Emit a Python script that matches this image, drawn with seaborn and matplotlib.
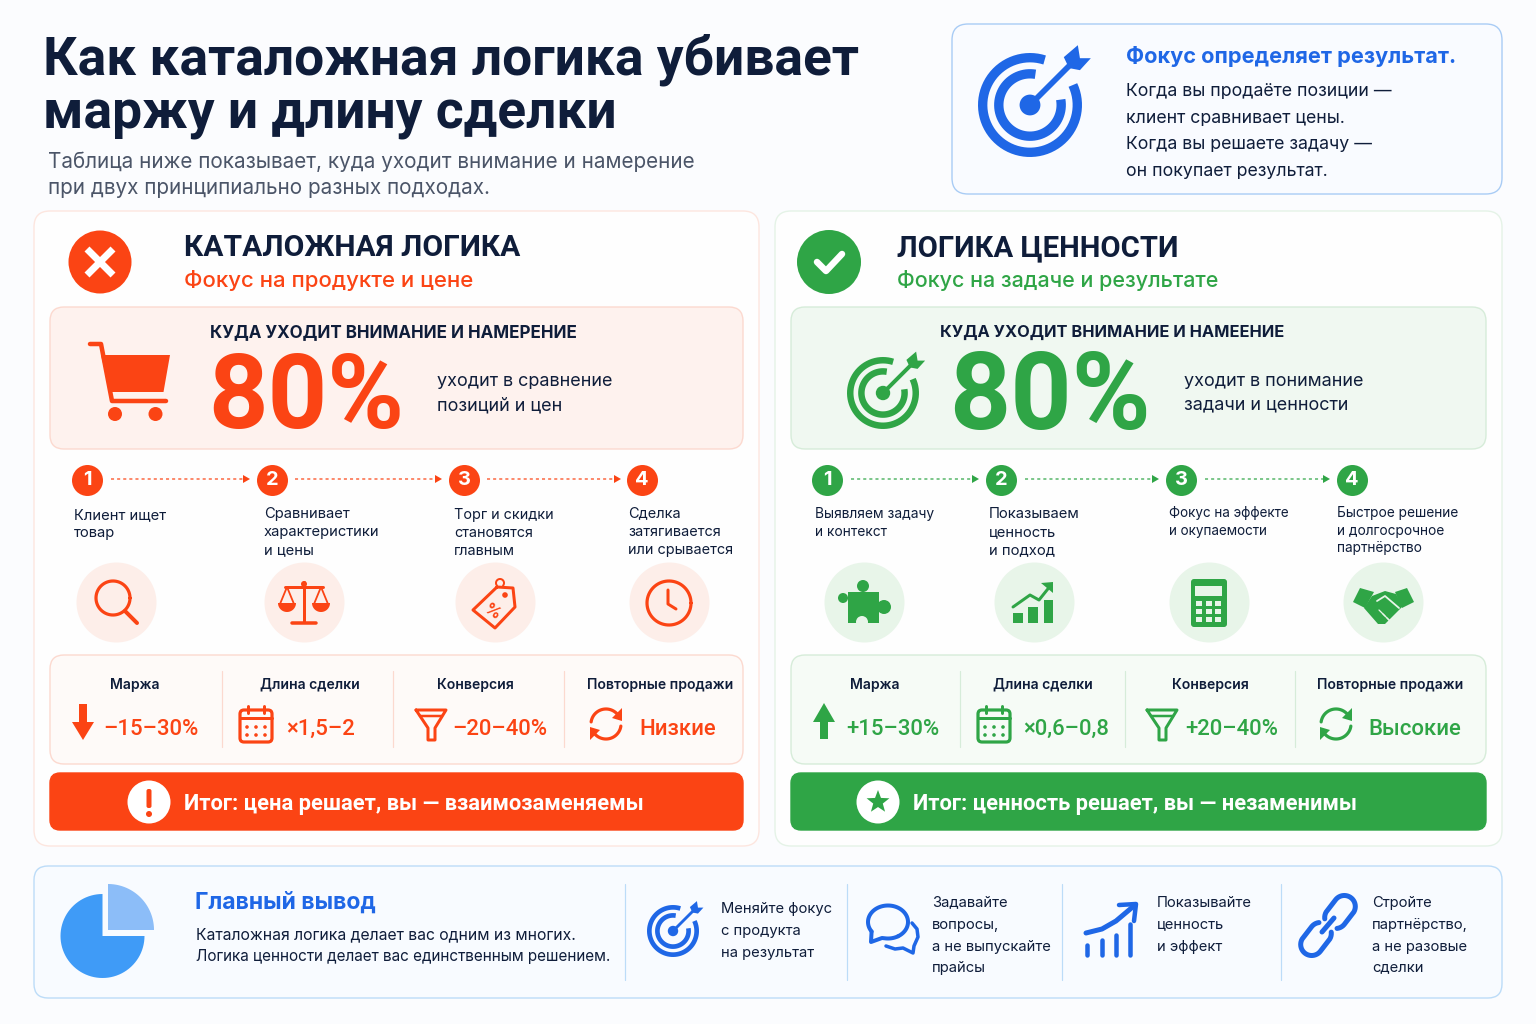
import numpy as np
import matplotlib
matplotlib.use("Agg")
import matplotlib.pyplot as plt
from matplotlib.patches import FancyBboxPatch, Circle, Rectangle
import seaborn as sns

# colours
BG = '#fbfcfe'
INK = '#0f1d3a'
GREY = '#4b5568'
RED = '#fb4414'
RED_SOFT = '#fef2ee'
RED_LINE = '#fcd9cf'
RED_EDGE = '#fde6df'
RED_DISC = '#fdeee9'
GREEN = '#2fa546'
GREEN_SOFT = '#f0f8f1'
GREEN_LINE = '#d6ecd9'
GREEN_EDGE = '#e5f3e7'
GREEN_DISC = '#e8f5e9'
BLUE = '#1f67e6'
BLUE_LINE = '#bcdcf8'
ROBOTO = ['Roboto', 'DejaVu Sans']

# text
title_lines = ['Как каталожная логика убивает', 'маржу и длину сделки']
subtitle_lines = ['Таблица ниже показывает, куда уходит внимание и намерение',
                  'при двух принципиально разных подходах.']
focus_title = 'Фокус определяет результат.'
focus_lines = ['Когда вы продаёте позиции —', 'клиент сравнивает цены.',
               'Когда вы решаете задачу —', 'он покупает результат.']

kpi_names = ['Маржа', 'Длина сделки', 'Конверсия', 'Повторные продажи']

left_steps = [['Клиент ищет', 'товар'], ['Сравнивает', 'характеристики', 'и цены'],
              ['Торг и скидки', 'становятся', 'главным'], ['Сделка', 'затягивается', 'или срывается']]
right_steps = [['Выявляем задачу', 'и контекст'], ['Показываем', 'ценность', 'и подход'],
               ['Фокус на эффекте', 'и окупаемости'], ['Быстрое решение', 'и долгосрочное', 'партнёрство']]
left_kpi = ['–15–30%', '×1,5–2', '–20–40%', 'Низкие']
right_kpi = ['+15–30%', '×0,6–0,8', '+20–40%', 'Высокие']

left_step_x = [87, 272, 464, 642]
right_step_x = [827, 1001, 1181, 1352]
left_disc_x = [116, 304, 495, 669]
right_disc_x = [864, 1034, 1209, 1383]

summary_title = 'Главный вывод'
summary_lines = ['Каталожная логика делает вас одним из многих.',
                 'Логика ценности делает вас единственным решением.']
tips = [['Меняйте фокус', 'с продукта', 'на результат'],
        ['Задавайте', 'вопросы,', 'а не выпускайте', 'прайсы'],
        ['Показывайте', 'ценность', 'и эффект'],
        ['Стройте', 'партнёрство,', 'а не разовые', 'сделки']]

sns.set_theme(style='white')
plt.rcParams['font.family'] = ['Inter', 'Roboto', 'DejaVu Sans']

fig = plt.figure(figsize=(15.36, 10.24), dpi=100, facecolor=BG)
ax = fig.add_axes([0, 0, 1, 1])
ax.set_facecolor(BG)
ax.set_xlim(0, 1536)
ax.set_ylim(1024, 0)
ax.autoscale(False)
ax.axis('off')


def T(x, y, s, px, c=INK, weight='normal', ha='left', **kw):
    # y is the visual centre of the glyphs, the 0.07 makes up for the line box
    ax.text(x, y + 0.07 * px, s, fontsize=px * 0.72, color=c, fontweight=weight, ha=ha, va='center', zorder=8, **kw)


def box(x0, y0, x1, y1, fc, ec, r=14, lw=1.0):
    ax.add_patch(FancyBboxPatch((x0, y0), x1 - x0, y1 - y0, boxstyle=f'round,pad=0,rounding_size={r}',
                                fc=fc, ec=ec, lw=lw, zorder=2))


def stroke(xs, ys, c, w, z=6, cap='round'):
    ax.plot(xs, ys, color=c, lw=w * 0.72, solid_capstyle=cap, solid_joinstyle='round', zorder=z)


def fill(xs, ys, c, z=6):
    ax.fill(xs, ys, color=c, lw=0, zorder=z)


def disc(x, y, r, c, z=5):
    ax.add_patch(Circle((x, y), r, fc=c, ec='none', zorder=z))


def arc(cx, cy, r, a0, a1, ry=None):
    t = np.radians(np.linspace(a0, a1, 70))
    return cx + r * np.cos(t), cy - (ry or r) * np.sin(t)


def target(cx, cy, R, c):
    w = R * 0.18
    stroke(*arc(cx, cy, R - w / 2, 72, 385), c, w, cap='butt')
    stroke(*arc(cx, cy, R * 0.6, 80, 370), c, w, cap='butt')
    disc(cx, cy, R * 0.2, c, z=6)
    stroke([cx, cx + .8 * R], [cy, cy - .8 * R], c, R * 0.11)
    pts = [(.65, -.92), (.92, -1.15), (.96, -.9), (1.17, -.9), (.96, -.67), (.75, -.71)]
    fill([cx + p[0] * R for p in pts], [cy + p[1] * R for p in pts], c)


def calendar(cx, cy, c):
    ax.add_patch(FancyBboxPatch((cx - 16, cy - 14), 32, 32, boxstyle='round,pad=0,rounding_size=4',
                                fc='none', ec=c, lw=2.3, zorder=6))
    stroke([cx - 16, cx + 16], [cy - 6, cy - 6], c, 3)
    for dx in (-8, 8):
        stroke([cx + dx, cx + dx], [cy - 18, cy - 11], c, 3)
    for dx in (-9, 0, 9):
        for dy in (3, 11):
            disc(cx + dx, cy + dy, 1.8, c, z=6)


def funnel(cx, cy, c):
    stroke([cx - 15, cx + 15, cx + 4, cx + 4, cx - 3, cx - 3, cx - 15],
           [cy - 13, cy - 13, cy + 5, cy + 17, cy + 17, cy + 5, cy - 13], c, 3)
    stroke([cx - 11, cx + 11], [cy - 7, cy - 7], c, 2.5)


def cycle(cx, cy, c):
    stroke(*arc(cx, cy, 15, 40, 172), c, 3.2)
    stroke(*arc(cx, cy, 15, 220, 352), c, 3.2)
    fill([cx + 16, cx + 16, cx + 6], [cy - 16, cy - 3, cy - 6], c)
    fill([cx - 16, cx - 16, cx - 6], [cy + 16, cy + 3, cy + 6], c)


def magnifier(cx, cy, c):
    stroke(*arc(cx - 3, cy - 4, 17, 0, 360), c, 3.2)
    stroke([cx + 9, cx + 21], [cy + 9, cy + 21], c, 4)


def scales(cx, cy, c):
    stroke([cx, cx], [cy - 20, cy + 20], c, 3)
    stroke([cx - 12, cx + 12], [cy + 21, cy + 21], c, 3.5)
    stroke([cx - 19, cx + 19], [cy - 15, cy - 15], c, 3)
    disc(cx, cy - 18, 3, c, z=6)
    for dx in (-17, 17):
        stroke([cx + dx - 7, cx + dx, cx + dx + 7], [cy + 2, cy - 15, cy + 2], c, 1.8)
        xs, ys = arc(cx + dx, cy + 1, 9, 180, 360)
        fill(xs, ys, c)


def price_tag(cx, cy, c):
    pts = [(2, -15), (18, -14), (20, 5), (0, 26), (-22, 8), (2, -15)]
    stroke([cx + p[0] for p in pts], [cy + p[1] for p in pts], c, 3)
    disc(cx + 10, cy - 7, 2.8, c, z=6)
    stroke(*arc(cx + 5, cy - 19, 4, -40, 220), c, 2)
    T(cx - 3, cy + 9, '%', 16, c, 'bold', ha='center', rotation=-35)


def clock(cx, cy, c):
    stroke(*arc(cx, cy, 22, 0, 360), c, 3.2)
    stroke([cx - 1, cx - 1, cx + 7], [cy - 13, cy + 1, cy + 6], c, 3)


def puzzle(cx, cy, c, bg):
    ax.add_patch(Rectangle((cx - 16, cy - 10), 31, 31, fc=c, ec='none', zorder=6))
    disc(cx - 1, cy - 16, 6, c, z=6)
    disc(cx + 20, cy + 5, 7, c, z=6)
    disc(cx - 21, cy - 4, 5, c, z=6)
    disc(cx - 2, cy + 20, 6, bg, z=7)


def growth(cx, cy, c):
    for x0, x1, top in [(-21, -11, 11), (-6, 4, 5), (10, 19, -2)]:
        ax.add_patch(Rectangle((cx + x0, cy + top), x1 - x0, 21 - top, fc=c, ec='none', zorder=6))
    stroke([cx - 21, cx - 4, cx + 5, cx + 17], [cy + 5, cy - 7, cy - 2, cy - 17], c, 3)
    fill([cx + 19, cx + 7, cx + 19], [cy - 20, cy - 19, cy - 9], c)


def calculator(cx, cy, c, bg):
    ax.add_patch(FancyBboxPatch((cx - 18, cy - 23), 36, 48, boxstyle='round,pad=0,rounding_size=3',
                                fc=c, ec='none', zorder=6))
    ax.add_patch(Rectangle((cx - 14, cy - 16), 27, 10, fc=bg, ec='none', zorder=7))
    for dx in (-10, 0, 9):
        for dy in (1, 9, 17):
            ax.add_patch(Rectangle((cx + dx - 3, cy + dy - 2.5), 6, 5, fc=bg, ec='none', zorder=7))


def handshake(cx, cy, c, bg):
    fill([cx - 30, cx - 23, cx - 9, cx - 18], [cy, cy - 14, cy - 10, cy + 6], c)
    fill([cx + 31, cx + 24, cx + 12, cx + 19], [cy, cy - 14, cy - 10, cy + 6], c)
    fill([cx - 11, cx + 2, cx + 13, cx + 20, cx + 2, cx - 5, cx - 19],
         [cy - 6, cy - 11, cy - 8, cy + 4, cy + 22, cy + 22, cy + 6], c)
    stroke([cx - 6, cx + 2, cx + 16], [cy - 1, cy - 6, cy + 6], bg, 1.8, z=7)
    for dx, dy in [(-4, 8), (0, 12), (4, 16)]:
        stroke([cx + dx, cx + dx + 6], [cy + dy, cy + dy + 6], bg, 1.3, z=7)


def chat(cx, cy, c):
    stroke(*arc(cx, cy - 8, 20, -60, 215, ry=16.5), c, 4)
    xs, ys = arc(cx, cy - 8, 20, 262, 300, ry=16.5)
    stroke(np.r_[cx - 16.4, cx - 17, cx - 6, xs], np.r_[cy + 1.5, cy + 12, cy + 8, ys], c, 4)
    stroke([cx + 24, cx + 29, cx + 30, cx + 26, cx + 25, cx + 15, cx + 7, cx - 2],
           [cy - 7, cy - 1, cy + 7, cy + 16, cy + 23, cy + 18, cy + 19, cy + 16], c, 3.5)


def rising(cx, c):
    for dx, top in [(-23, 945), (-8, 940), (6, 935), (20, 924)]:
        stroke([cx + dx, cx + dx], [top, 955], c, 4.5)
    stroke([cx - 24, cx - 8, cx + 6, cx + 25], [933, 929, 921, 905], c, 5)
    stroke([cx + 9, cx + 26, cx + 24], [905, 904, 921], c, 4.5)


def stadium(cx, cy, h, r, a, c, w):
    ux, uy = np.cos(np.radians(a)), -np.sin(np.radians(a))
    x1, y1 = arc(cx + h * ux, cy + h * uy, r, a - 90, a + 90)
    x2, y2 = arc(cx - h * ux, cy - h * uy, r, a + 90, a + 135)
    x3, y3 = arc(cx - h * ux, cy - h * uy, r, a + 225, a + 270)
    stroke(np.r_[x3, x1, x2], np.r_[y3, y1, y2], c, w)


def star(cx, cy, R, c):
    ang = np.radians(90 + np.arange(10) * 36)
    rad = np.where(np.arange(10) % 2 == 0, R, R * 0.42)
    fill(cx + rad * np.cos(ang), cy - rad * np.sin(ang), c, z=7)


def panel(x0, x1, c, soft, line, edge, disc_c, head, head_px, sub, sub_px, text_x, hx, att_px, pct_x, pct_px, attention,
          desc, desc_x, desc_y, steps, step_x, step_y_lines, step_text_x, step_px, conn, disc_x,
          kpi, kpi_x, kpi_icon_x, label_x, div_x, verdict, verdict_x, badge_x):
    box(x0 - 16, 211, x1 + 16, 846, '#fefefe', edge, r=16)
    box(x0, 307, x1, 449, soft, line)
    box(x0, 655, x1, 764, '#fefaf8' if c == RED else '#f6fbf6', line)
    box(x0, 773, x1, 830, c, c, r=10)

    T(text_x, 246, head, head_px, INK, 'bold', family=ROBOTO)
    T(text_x, 279, sub, sub_px, c, 'medium')
    T(hx, 331, attention, att_px, INK, 'bold')
    T(pct_x, 392, '80%', pct_px, c, 'bold', family=ROBOTO)
    T(desc_x, desc_y[0], desc[0], 18, INK)
    T(desc_x, desc_y[1], desc[1], 18, INK)

    # step numbers and the dotted connectors between them
    sns.scatterplot(x=step_x, y=[480] * 4, s=(31 * 0.72) ** 2, color=c, linewidth=0, ax=ax, zorder=5, legend=False)
    for i, (a, b) in enumerate(conn):
        sns.lineplot(x=[a, b - 6], y=[479, 479], color=c, lw=1.1, linestyle=(0, (2, 2)), alpha=0.8,
                     ax=ax, legend=False, errorbar=None, zorder=4)
        fill([b - 7, b, b - 7], [475, 479, 483], c)
    for i, x in enumerate(step_x):
        T(x, 479, str(i + 1), 20, 'white', 'bold', ha='center')

    for x, lines, ys, px in zip(step_text_x, steps, step_y_lines, step_px):
        for y, s in zip(ys, lines):
            T(x, y - 1, s, px, INK)

    sns.scatterplot(x=disc_x, y=[602] * 4, s=(80 * 0.72) ** 2, color=disc_c, linewidth=0, ax=ax, zorder=3, legend=False)

    for x, s in zip(label_x, kpi_names):
        T(x, 684, s, 14, INK, 'semibold', ha='center')
    for x in div_x:
        stroke([x, x], [671, 747], line, 1.2, z=4)
    for x, s in zip(kpi_x, kpi):
        T(x, 728, s, 22.2, c, 'medium', family=ROBOTO)
    calendar(kpi_icon_x[1], 724, c)
    funnel(kpi_icon_x[2], 723, c)
    cycle(kpi_icon_x[3], 724, c)

    T(verdict_x, 802, verdict, 21.9, 'white', 'bold', family=ROBOTO)
    disc(badge_x, 802, 21.5, 'white', z=6)


# top block
for i, s in enumerate(title_lines):
    T(43, [56, 111][i], s, 53.4, INK, 'bold', family=ROBOTO)
for i, s in enumerate(subtitle_lines):
    T(48, [160, 187][i], s, 20.7, GREY)
box(952, 24, 1502, 194, '#f9fbff', '#a9ccf5', r=16)
target(1030, 105, 52, BLUE)
T(1126, 55, focus_title, 21.7, BLUE, 'bold')
for y, s in zip([90, 117, 143, 170], focus_lines):
    T(1126, y, s, 17.7, INK)

# left panel
panel(50, 743, RED, RED_SOFT, RED_LINE, RED_EDGE, RED_DISC, 'КАТАЛОЖНАЯ ЛОГИКА', 30, 'Фокус на продукте и цене', 22.2,
      184, 210, 17, 208, 104, 'КУДА УХОДИТ ВНИМАНИЕ И НАМЕРЕНИЕ', ['уходит в сравнение', 'позиций и цен'], 437, [380, 405],
      left_steps, left_step_x, [[515, 533], [514, 532, 550], [515, 533, 551], [513, 532, 550]],
      [74, 264, 454, 628], [14.8, 14.8, 14.4, 14.5], [(111, 250), (295, 442), (487, 621)], left_disc_x,
      left_kpi, [103, 286, 452, 639], [83, 256, 431, 606], [135, 310, 475, 660], [222, 393, 564],
      'Итог: цена решает, вы — взаимозаменяемы', 184, 149)

# right panel
panel(791, 1486, GREEN, GREEN_SOFT, GREEN_LINE, GREEN_EDGE, GREEN_DISC, 'ЛОГИКА ЦЕННОСТИ', 29.3, 'Фокус на задаче и результате', 21.5,
      897, 940, 16.4, 949, 107, 'КУДА УХОДИТ ВНИМАНИЕ И НАМЕЕНИЕ', ['уходит в понимание', 'задачи и ценности'], 1184, [380, 404],
      right_steps, right_step_x, [[514, 532], [514, 532, 550], [513, 531], [513, 531, 548]],
      [815, 989, 1169, 1337], [13.8, 14.8, 13.5, 13.7], [(851, 979), (1025, 1159), (1205, 1330)], right_disc_x,
      right_kpi, [846, 1023, 1185, 1368], [824, 994, 1162, 1336], [875, 1043, 1210, 1390], [960, 1125, 1295],
      'Итог: ценность решает, вы — незаменимы', 913, 878)

# header badges
disc(100, 262, 31.5, RED)
stroke([87, 113], [249, 275], 'white', 7, cap='butt')
stroke([113, 87], [249, 275], 'white', 7, cap='butt')
disc(829, 262, 32, GREEN)
stroke([817, 826, 842], [262, 271, 254], 'white', 6.5)

# big icons in the 80% boxes
fill([101, 170, 163.5, 110], [355, 355, 392, 392], RED)
stroke([90, 101, 112, 166], [344, 344, 401, 401], RED, 4.5)
disc(115, 414, 7, RED)
disc(155.5, 414, 7, RED)
target(883, 393, 36, GREEN)

# step icons
magnifier(left_disc_x[0], 602, RED)
scales(left_disc_x[1], 602, RED)
price_tag(left_disc_x[2], 602, RED)
clock(left_disc_x[3], 603, RED)
puzzle(right_disc_x[0], 602, GREEN, GREEN_DISC)
growth(right_disc_x[1], 602, GREEN)
calculator(right_disc_x[2], 602, GREEN, GREEN_DISC)
handshake(right_disc_x[3], 602, GREEN, GREEN_DISC)

# KPI arrows
stroke([83, 83], [704, 725], RED, 8, cap='butt')
fill([72, 94, 83], [722, 722, 740], RED)
stroke([824, 824], [739, 718], GREEN, 8, cap='butt')
fill([813, 835, 824], [722, 722, 703], GREEN)

# verdict badges
ax.add_patch(FancyBboxPatch((146.5, 789), 5, 19, boxstyle='round,pad=0,rounding_size=2', fc=RED, ec='none', zorder=7))
disc(149, 814, 3, RED, z=7)
star(878, 802, 12, GREEN)

# summary strip
box(34, 866, 1502, 998, '#f8fbff', BLUE_LINE, r=14)
xs, ys = arc(102.5, 936, 42, 90, 360)
fill(np.r_[102.5, xs], np.r_[936, ys], '#3f9bf7')
xs, ys = arc(108, 930, 46, 0, 90)
fill(np.r_[108, xs], np.r_[930, ys], '#8cbdf8')
T(195, 901, summary_title, 23, BLUE, 'bold')
for y, s, px in zip([934, 955], summary_lines, [15.75, 15.3]):
    T(196, y, s, px, INK)
for x in [625, 847, 1062, 1281]:
    stroke([x, x], [884, 980], BLUE_LINE, 1.2, z=4)
target(673, 931, 26, BLUE)
chat(888, 930, BLUE)
rising(1110, BLUE)
stadium(1340, 912, 7, 11, 52, BLUE, 5)
stadium(1316, 939, 7, 11, 232, BLUE, 5)
stroke([1322, 1334], [932, 918], BLUE, 5)
tip_x = [721, 932, 1157, 1372]
tip_y = [[908, 930, 952], [902, 924, 946, 967], [902, 924, 946], [902, 924, 946, 967]]
for x, ys, lines in zip(tip_x, tip_y, tips):
    for y, s in zip(ys, lines):
        T(x, y - 0.5, s, 14.8, INK)

fig.savefig('out.png', dpi=100, facecolor=BG)
